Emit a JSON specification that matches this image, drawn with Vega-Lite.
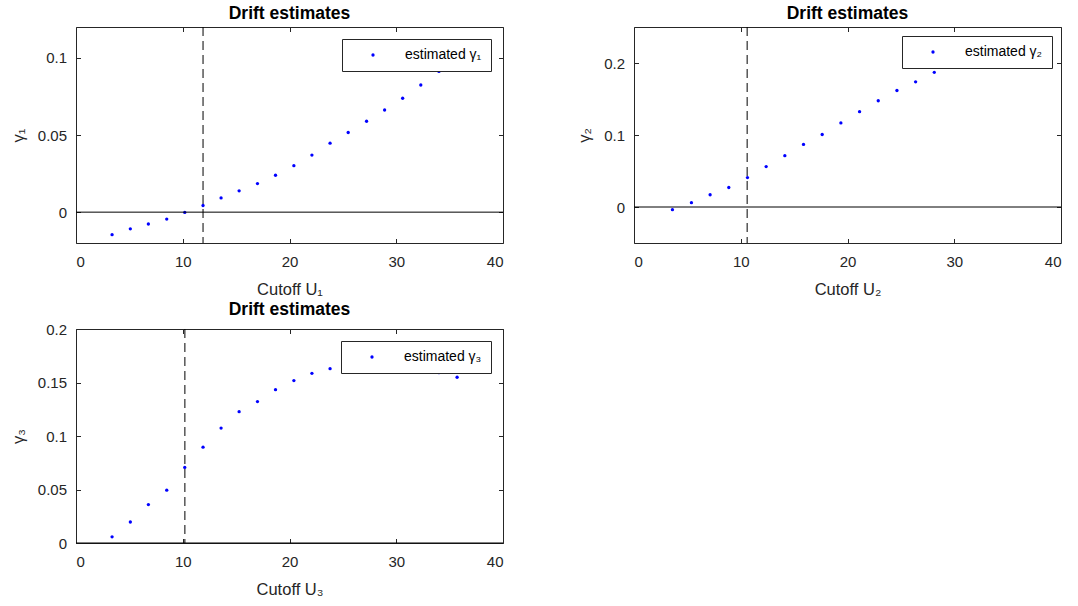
{
  "$schema": "https://vega.github.io/schema/vega-lite/v6.json",
  "padding": {"left": 10, "top": 5, "right": 5, "bottom": 5},
  "background": "white",
  "datasets": {
    "g1": [
      {"U": 3.38, "gamma": -0.0146, "series": "estimated γ₁"},
      {"U": 5.09, "gamma": -0.0108, "series": "estimated γ₁"},
      {"U": 6.78, "gamma": -0.0077, "series": "estimated γ₁"},
      {"U": 8.5, "gamma": -0.0045, "series": "estimated γ₁"},
      {"U": 10.19, "gamma": -0.0002, "series": "estimated γ₁"},
      {"U": 11.9, "gamma": 0.0043, "series": "estimated γ₁"},
      {"U": 13.59, "gamma": 0.0092, "series": "estimated γ₁"},
      {"U": 15.28, "gamma": 0.0138, "series": "estimated γ₁"},
      {"U": 17.0, "gamma": 0.0185, "series": "estimated γ₁"},
      {"U": 18.69, "gamma": 0.0239, "series": "estimated γ₁"},
      {"U": 20.41, "gamma": 0.0301, "series": "estimated γ₁"},
      {"U": 22.1, "gamma": 0.037, "series": "estimated γ₁"},
      {"U": 23.8, "gamma": 0.0447, "series": "estimated γ₁"},
      {"U": 25.5, "gamma": 0.0516, "series": "estimated γ₁"},
      {"U": 27.22, "gamma": 0.0589, "series": "estimated γ₁"},
      {"U": 28.91, "gamma": 0.0662, "series": "estimated γ₁"},
      {"U": 30.6, "gamma": 0.0738, "series": "estimated γ₁"},
      {"U": 32.3, "gamma": 0.0824, "series": "estimated γ₁"},
      {"U": 34.0, "gamma": 0.0912, "series": "estimated γ₁"}
    ],
    "g2": [
      {"U": 3.6, "gamma": -0.0037, "series": "estimated γ₂"},
      {"U": 5.38, "gamma": 0.006, "series": "estimated γ₂"},
      {"U": 7.13, "gamma": 0.017, "series": "estimated γ₂"},
      {"U": 8.88, "gamma": 0.0271, "series": "estimated γ₂"},
      {"U": 10.63, "gamma": 0.0409, "series": "estimated γ₂"},
      {"U": 12.38, "gamma": 0.0561, "series": "estimated γ₂"},
      {"U": 14.13, "gamma": 0.0713, "series": "estimated γ₂"},
      {"U": 15.88, "gamma": 0.0869, "series": "estimated γ₂"},
      {"U": 17.63, "gamma": 0.1007, "series": "estimated γ₂"},
      {"U": 19.38, "gamma": 0.1168, "series": "estimated γ₂"},
      {"U": 21.13, "gamma": 0.1324, "series": "estimated γ₂"},
      {"U": 22.88, "gamma": 0.1476, "series": "estimated γ₂"},
      {"U": 24.63, "gamma": 0.1618, "series": "estimated γ₂"},
      {"U": 26.38, "gamma": 0.1738, "series": "estimated γ₂"},
      {"U": 28.13, "gamma": 0.1871, "series": "estimated γ₂"},
      {"U": 36.78, "gamma": 0.2349, "series": "estimated γ₂"}
    ],
    "g3": [
      {"U": 3.38, "gamma": 0.0058, "series": "estimated γ₃"},
      {"U": 5.09, "gamma": 0.0196, "series": "estimated γ₃"},
      {"U": 6.78, "gamma": 0.0359, "series": "estimated γ₃"},
      {"U": 8.5, "gamma": 0.0494, "series": "estimated γ₃"},
      {"U": 10.19, "gamma": 0.0706, "series": "estimated γ₃"},
      {"U": 11.9, "gamma": 0.0896, "series": "estimated γ₃"},
      {"U": 13.59, "gamma": 0.1074, "series": "estimated γ₃"},
      {"U": 15.28, "gamma": 0.1227, "series": "estimated γ₃"},
      {"U": 17.0, "gamma": 0.1322, "series": "estimated γ₃"},
      {"U": 18.69, "gamma": 0.1433, "series": "estimated γ₃"},
      {"U": 20.41, "gamma": 0.1518, "series": "estimated γ₃"},
      {"U": 22.1, "gamma": 0.1586, "series": "estimated γ₃"},
      {"U": 23.8, "gamma": 0.1629, "series": "estimated γ₃"},
      {"U": 34.0, "gamma": 0.1592, "series": "estimated γ₃"},
      {"U": 35.7, "gamma": 0.1549, "series": "estimated γ₃"}
    ],
    "zero": [{"level": 0}],
    "cut1": [{"cutoff": 11.9}],
    "cut2": [{"cutoff": 10.6}],
    "cut3": [{"cutoff": 10.2}]
  },
  "config": {
    "view": {"stroke": null},
    "font": "Liberation Sans",
    "axis": {
      "grid": false,
      "domainColor": "#262626",
      "domainWidth": 1,
      "tickColor": "#262626",
      "tickWidth": 1,
      "tickSize": -4.5,
      "labelColor": "#262626",
      "labelFont": "Liberation Sans",
      "labelFontSize": 15,
      "titleColor": "#262626",
      "titleFont": "Liberation Sans",
      "titleFontSize": 16.5,
      "titleFontWeight": "normal"
    },
    "axisX": {"labelPadding": 16, "titlePadding": 12},
    "axisY": {"labelPadding": 14, "titlePadding": 11},
    "title": {"font": "Liberation Sans", "fontSize": 17.5, "fontWeight": "bold", "color": "#000000", "offset": 4, "anchor": "middle"},
    "legend": {
      "title": null,
      "orient": "top-right",
      "padding": 9,
      "strokeColor": "#262626",
      "fillColor": "white",
      "symbolOffset": 15,
      "labelOffset": 25,
      "labelFont": "Liberation Sans",
      "labelFontSize": 14,
      "labelColor": "#000000",
      "symbolType": "circle",
      "symbolSize": 11,
      "symbolStrokeWidth": 0,
      "cornerRadius": 0
    }
  },
  "resolve": {"scale": {"color": "independent"}, "legend": {"color": "independent"}},
  "bounds": "flush",
  "columns": 2,
  "spacing": {"row": 86, "column": 131},
  "concat": [
    {
      "width": 427, "height": 216,
      "title": "Drift estimates",
      "resolve": {"axis": {"x": "independent", "y": "independent"}},
      "layer": [
        {
          "data": {"name": "g1"},
          "mark": {"type": "point", "filled": true, "size": 11, "opacity": 1, "shape": "circle"},
          "encoding": {
            "x": {"field": "U", "type": "quantitative", "scale": {"domain": [0, 40], "nice": false, "zero": false}, "axis": {"orient": "bottom", "values": [0, 10, 20, 30, 40], "title": "Cutoff U₁"}},
            "y": {"field": "gamma", "type": "quantitative", "scale": {"domain": [-0.02, 0.12], "nice": false, "zero": false}, "axis": {"orient": "left", "values": [0, 0.05, 0.1], "format": "~g", "title": "γ₁"}},
            "color": {"field": "series", "type": "nominal", "scale": {"range": ["#0000ff"]}, "legend": {"offset": 12}}
          }
        },
        {
          "data": {"name": "zero"},
          "mark": {"type": "rule", "color": "#000000", "strokeWidth": 1},
          "encoding": {
            "y": {"field": "level", "type": "quantitative", "scale": {"domain": [-0.02, 0.12], "nice": false, "zero": false}, "axis": {"orient": "right", "values": [0, 0.05, 0.1], "labels": false, "title": null}}
          }
        },
        {
          "data": {"name": "cut1"},
          "mark": {"type": "rule", "color": "#000000", "strokeWidth": 1, "strokeDash": [9, 5]},
          "encoding": {
            "x": {"field": "cutoff", "type": "quantitative", "scale": {"domain": [0, 40], "nice": false, "zero": false}, "axis": {"orient": "top", "values": [0, 10, 20, 30, 40], "labels": false, "title": null}}
          }
        }
      ]
    },
    {
      "width": 427, "height": 216,
      "title": "Drift estimates",
      "resolve": {"axis": {"x": "independent", "y": "independent"}},
      "layer": [
        {
          "data": {"name": "g2"},
          "mark": {"type": "point", "filled": true, "size": 11, "opacity": 1, "shape": "circle"},
          "encoding": {
            "x": {"field": "U", "type": "quantitative", "scale": {"domain": [0, 40], "nice": false, "zero": false}, "axis": {"orient": "bottom", "values": [0, 10, 20, 30, 40], "title": "Cutoff U₂"}},
            "y": {"field": "gamma", "type": "quantitative", "scale": {"domain": [-0.05, 0.25], "nice": false, "zero": false}, "axis": {"orient": "left", "values": [0, 0.1, 0.2], "format": "~g", "title": "γ₂"}},
            "color": {"field": "series", "type": "nominal", "scale": {"range": ["#0000ff"]}, "legend": {"offset": 9}}
          }
        },
        {
          "data": {"name": "zero"},
          "mark": {"type": "rule", "color": "#000000", "strokeWidth": 1},
          "encoding": {
            "y": {"field": "level", "type": "quantitative", "scale": {"domain": [-0.05, 0.25], "nice": false, "zero": false}, "axis": {"orient": "right", "values": [0, 0.1, 0.2], "labels": false, "title": null}}
          }
        },
        {
          "data": {"name": "cut2"},
          "mark": {"type": "rule", "color": "#000000", "strokeWidth": 1, "strokeDash": [9, 5]},
          "encoding": {
            "x": {"field": "cutoff", "type": "quantitative", "scale": {"domain": [0, 40], "nice": false, "zero": false}, "axis": {"orient": "top", "values": [0, 10, 20, 30, 40], "labels": false, "title": null}}
          }
        }
      ]
    },
    {
      "width": 427, "height": 214,
      "title": "Drift estimates",
      "resolve": {"axis": {"x": "independent", "y": "independent"}},
      "layer": [
        {
          "data": {"name": "g3"},
          "mark": {"type": "point", "filled": true, "size": 11, "opacity": 1, "shape": "circle"},
          "encoding": {
            "x": {"field": "U", "type": "quantitative", "scale": {"domain": [0, 40], "nice": false, "zero": false}, "axis": {"orient": "bottom", "values": [0, 10, 20, 30, 40], "title": "Cutoff U₃"}},
            "y": {"field": "gamma", "type": "quantitative", "scale": {"domain": [0, 0.2], "nice": false, "zero": false}, "axis": {"orient": "left", "values": [0, 0.05, 0.1, 0.15, 0.2], "format": "~g", "title": "γ₃"}},
            "color": {"field": "series", "type": "nominal", "scale": {"range": ["#0000ff"]}, "legend": {"offset": 12}}
          }
        },
        {
          "data": {"name": "zero"},
          "mark": {"type": "rule", "color": "#000000", "strokeWidth": 1},
          "encoding": {
            "y": {"field": "level", "type": "quantitative", "scale": {"domain": [0, 0.2], "nice": false, "zero": false}, "axis": {"orient": "right", "values": [0, 0.05, 0.1, 0.15, 0.2], "labels": false, "title": null}}
          }
        },
        {
          "data": {"name": "cut3"},
          "mark": {"type": "rule", "color": "#000000", "strokeWidth": 1, "strokeDash": [9, 5]},
          "encoding": {
            "x": {"field": "cutoff", "type": "quantitative", "scale": {"domain": [0, 40], "nice": false, "zero": false}, "axis": {"orient": "top", "values": [0, 10, 20, 30, 40], "labels": false, "title": null}}
          }
        }
      ]
    }
  ]
}
